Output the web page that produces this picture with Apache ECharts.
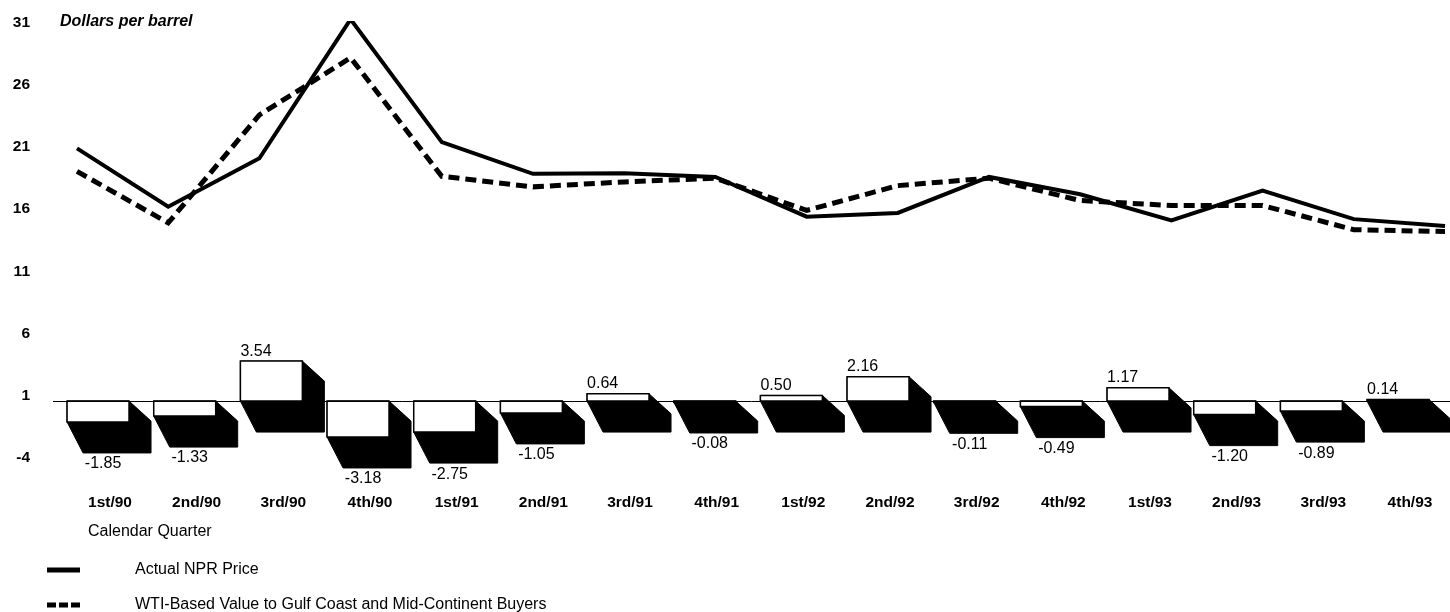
<!DOCTYPE html>
<html>
<head>
<meta charset="utf-8">
<script src="https://cdn.jsdelivr.net/npm/echarts@6/dist/echarts.min.js"></script>
<style>
  html, body { margin: 0; padding: 0; background: #fff; }
  #chart { width: 1450px; height: 612px; }
</style>
</head>
<body>
<div id="chart"></div>
<script>
// Quarterly crude prices, dollars per barrel
const quarters = ['1st/90', '2nd/90', '3rd/90', '4th/90', '1st/91', '2nd/91', '3rd/91', '4th/91',
                  '1st/92', '2nd/92', '3rd/92', '4th/92', '1st/93', '2nd/93', '3rd/93', '4th/93'];
const actualNprPrice = [20.9, 16.2, 20.1, 31.3, 21.4, 18.85, 18.9, 18.6,
                        15.4, 15.7, 18.6, 17.2, 15.1, 17.5, 15.2, 14.65];
const wtiBasedValue = [19.05, 14.9, 23.6, 28.2, 18.65, 17.8, 18.2, 18.5,
                       15.9, 17.9, 18.5, 16.7, 16.3, 16.3, 14.35, 14.2];
// WTI-based value minus actual price
const difference = [-1.85, -1.33, 3.54, -3.18, -2.75, -1.05, 0.64, -0.08,
                    0.50, 2.16, -0.11, -0.49, 1.17, -1.20, -0.89, 0.14];
// Price axis: 31 down to -4 in steps of 5
const priceAxisMin = -4;
const priceAxisMax = 31;
const priceAxisStep = 5;

const SOLID_NAME = 'Actual NPR Price';
const DASHED_NAME = 'WTI-Based Value to Gulf Coast and Mid-Continent Buyers';

const FONT = "'Liberation Sans', Arial, Helvetica, sans-serif";
const chart = echarts.init(document.getElementById('chart'), null, { renderer: 'canvas' });

// 3-D style bar: white face plus a black extruded side
function renderBar(params, api) {
  const idx = api.value(0);
  const v = api.value(1);
  const base = api.coord([idx, 0]);
  const end = api.coord([idx, v]);
  const band = api.size([1, 0])[0];
  const w = band * 0.715;
  const cx = base[0] - band * 0.138;
  const x0 = cx - w / 2, x1 = cx + w / 2;
  const top = Math.min(base[1], end[1]);
  const bottom = Math.max(base[1], end[1]);
  const dx = 22, dyR = 20, dy = 31, dxL = 16;
  const children = [
    {
      type: 'polygon',
      shape: { points: [[x0, top], [x1, top], [x1 + dx, top + dyR], [x1 + dx, bottom + dy],
                        [x0 + dxL, bottom + dy], [x0, bottom]] },
      style: { fill: '#000', stroke: '#000', lineWidth: 1 }
    },
    {
      type: 'rect',
      shape: { x: x0, y: top, width: w, height: Math.max(bottom - top, 1.5) },
      style: { fill: '#fff', stroke: '#000', lineWidth: 1.5 }
    }
  ];
  const txt = v.toFixed(2);
  if (v < 0) {
    children.push({
      type: 'text',
      style: { text: txt, x: cx + 5, y: bottom + dy + 11, align: 'center', verticalAlign: 'middle',
               font: '16px ' + FONT, fill: '#000' }
    });
  } else {
    children.push({
      type: 'text',
      style: { text: txt, x: x0, y: top - 10, align: 'left', verticalAlign: 'middle',
               font: '16px ' + FONT, fill: '#000' }
    });
  }
  return { type: 'group', children };
}

const legendBase = {
  orient: 'vertical', left: 47, padding: 0, itemWidth: 33, itemHeight: 14, itemGap: 0,
  textStyle: { fontFamily: FONT, fontSize: 16, color: '#000', lineHeight: 16, padding: [0, 0, 0, 50] }
};

const option = {
  backgroundColor: '#fff',
  animation: false,
  grid: [
    { left: 77, right: 5, top: 23, bottom: 154.5 },
    { left: 110, right: 40, top: 23, bottom: 154.5 }
  ],
  xAxis: [
    {
      type: 'category', gridIndex: 0, data: quarters, boundaryGap: false,
      axisLine: { show: false }, axisTick: { show: false }, axisLabel: { show: false },
      splitLine: { show: false }
    },
    {
      type: 'category', gridIndex: 1, data: quarters, boundaryGap: false,
      axisLine: { show: false }, axisTick: { show: false }, splitLine: { show: false },
      axisLabel: { margin: 37, color: '#000', fontFamily: FONT, fontWeight: 'bold', fontSize: 15.5 }
    }
  ],
  yAxis: [
    {
      type: 'value', gridIndex: 0, min: priceAxisMin, max: priceAxisMax, interval: priceAxisStep,
      axisLine: { show: false }, axisTick: { show: false }, splitLine: { show: false },
      axisLabel: { margin: 47, align: 'right', color: '#000', fontFamily: FONT, fontWeight: 'bold', fontSize: 15.5 }
    },
    {
      type: 'value', gridIndex: 1, min: -5, max: 33.5, show: false,
      splitLine: { show: false }
    }
  ],
  legend: [
    Object.assign({}, legendBase, {
      top: 562,
      data: [{ name: SOLID_NAME, icon: 'path://M0,4.5L33,4.5L33,9.5L0,9.5Z', itemStyle: { color: '#000' } }]
    }),
    Object.assign({}, legendBase, {
      top: 597,
      data: [{ name: DASHED_NAME,
               icon: 'path://M0,4.5L9,4.5L9,9.5L0,9.5ZM12,4.5L21,4.5L21,9.5L12,9.5ZM24,4.5L33,4.5L33,9.5L24,9.5Z',
               itemStyle: { color: '#000' } }]
    })
  ],
  graphic: [
    { type: 'text', left: 60, top: 14, style: { text: 'Dollars per barrel', font: 'italic bold 16px ' + FONT, fill: '#000' } },
    { type: 'text', left: 88, top: 524, style: { text: 'Calendar Quarter', font: '16px ' + FONT, fill: '#000' } }
  ],
  series: [
    {
      type: 'custom', name: 'Difference', xAxisIndex: 1, yAxisIndex: 1,
      data: difference.map((v, i) => [i, v]),
      renderItem: renderBar,
      z: 2,
      markLine: {
        silent: true, symbol: 'none', label: { show: false },
        lineStyle: { color: '#000', width: 1, type: 'solid' },
        data: [[{ x: 53, yAxis: 0 }, { x: 1450, yAxis: 0 }]]
      }
    },
    {
      type: 'line', name: SOLID_NAME, xAxisIndex: 0, yAxisIndex: 0,
      data: actualNprPrice, showSymbol: false, symbol: 'none', z: 5,
      lineStyle: { color: '#000', width: 4, join: 'miter' }
    },
    {
      type: 'line', name: DASHED_NAME, xAxisIndex: 0, yAxisIndex: 0,
      data: wtiBasedValue, showSymbol: false, symbol: 'none', z: 4,
      lineStyle: { color: '#000', width: 5, type: [11, 6], join: 'miter' }
    }
  ]
};
chart.setOption(option);
</script>
</body>
</html>
